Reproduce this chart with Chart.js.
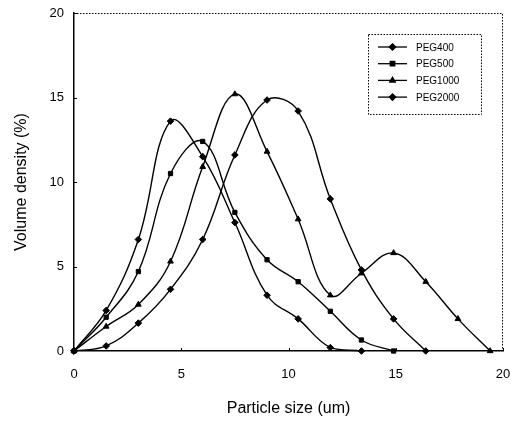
<!DOCTYPE html>
<html>
<head>
<meta charset="utf-8">
<script src="https://cdn.jsdelivr.net/npm/chart.js@4.4.1/dist/chart.umd.min.js"></script>
<style>
  html, body { margin: 0; padding: 0; background: #fff; }
  #wrap { width: 511px; height: 422px; }
</style>
</head>
<body>
<div id="wrap"><canvas id="psd"></canvas></div>
<script>
// particle size bins (um)
const sizeBins = [0, 1.5, 3, 4.5, 6, 7.5, 9, 10.45, 11.95, 13.4, 14.9, 16.4, 17.9, 19.4];

// volume density (%) per sample, one value per bin from the start
const peg400 = [0, 2.4, 6.6, 13.6, 11.5, 7.6, 3.3, 1.9, 0.2, 0];
const peg500 = [0, 2.0, 4.7, 10.5, 12.4, 8.2, 5.4, 4.1, 2.35, 0.65, 0];
const peg1000 = [0, 1.45, 2.75, 5.3, 10.9, 15.2, 11.8, 7.8, 3.3, 4.6, 5.8, 4.1, 1.9, 0];
const peg2000 = [0, 0.3, 1.65, 3.65, 6.6, 11.6, 14.85, 14.2, 9.0, 4.8, 1.9, 0];

const seriesNames = ['PEG400', 'PEG500', 'PEG1000', 'PEG2000'];
const seriesMarkers = ['rectRot', 'rect', 'triangle', 'rectRot'];

const xTicks = [0, 5, 10, 15, 20];
const yTicks = [0, 5, 10, 15, 20];

function toPoints(values) {
    return values.map((v, i) => ({ x: sizeBins[i], y: v }));
}

const FONT = '"Liberation Sans", Arial, sans-serif';

// dotted frame on top/right, small inward ticks, and the boxed legend
const framePlugin = {
    id: 'frame',
    afterDraw(chart) {
        const { ctx, chartArea: a, scales } = chart;
        ctx.save();
        ctx.strokeStyle = '#000';
        ctx.lineWidth = 1;
        ctx.setLineDash([1.5, 1.5]);
        ctx.beginPath();
        ctx.moveTo(a.left, a.top + 0.5);
        ctx.lineTo(a.right - 0.5, a.top + 0.5);
        ctx.lineTo(a.right - 0.5, a.bottom);
        ctx.stroke();
        ctx.setLineDash([]);

        // inward ticks
        ctx.beginPath();
        yTicks.forEach(t => {
            const y = Math.round(scales.y.getPixelForValue(t)) + 0.5;
            ctx.moveTo(a.left, y);
            ctx.lineTo(a.left + 3, y);
        });
        xTicks.forEach(t => {
            const x = Math.round(scales.x.getPixelForValue(t)) + 0.5;
            ctx.moveTo(x, a.bottom);
            ctx.lineTo(x, a.bottom - 3);
        });
        ctx.stroke();

        // legend box
        const bx = 368, by = 34, bw = 113, bh = 80;
        ctx.setLineDash([1.5, 1.5]);
        ctx.strokeRect(bx + 0.5, by + 0.5, bw, bh);
        ctx.setLineDash([]);
        ctx.font = '10px ' + FONT;
        ctx.textBaseline = 'middle';
        ctx.fillStyle = '#000';
        chart.data.datasets.forEach((ds, i) => {
            const y = by + 13 + i * 16.7;
            ctx.lineWidth = 1.3;
            ctx.beginPath();
            ctx.moveTo(bx + 10, y);
            ctx.lineTo(bx + 39, y);
            ctx.stroke();
            Chart.helpers.drawPoint(ctx, {
                pointStyle: ds.pointStyle, radius: 3.2, rotation: 0, borderWidth: 1
            }, bx + 24.5, y);
            ctx.fill();
            ctx.fillText(ds.label, bx + 48, y + 1);
        });
        ctx.restore();
    }
};

const datasets = [peg400, peg500, peg1000, peg2000].map((vals, i) => ({
    label: seriesNames[i],
    data: toPoints(vals),
    borderColor: '#000',
    backgroundColor: '#000',
    borderWidth: 1.4,
    pointStyle: seriesMarkers[i],
    pointRadius: seriesMarkers[i] === 'rect' ? 3 : 3.3,
    pointBorderWidth: 1,
    tension: 0.4,
    showLine: true,
    clip: false
}));

new Chart(document.getElementById('psd'), {
    type: 'scatter',
    data: { datasets },
    options: {
        responsive: true,
        maintainAspectRatio: false,
        animation: false,
        layout: { padding: { top: 13, right: 8, left: 8, bottom: 0 } },
        plugins: { legend: { display: false }, tooltip: { enabled: false } },
        scales: {
            x: {
                type: 'linear',
                min: 0, max: 20,
                afterBuildTicks: s => { s.ticks = xTicks.map(v => ({ value: v })); },
                afterFit: s => { s.height = 71; s.paddingLeft = 0; s.paddingRight = 0; },
                grid: { display: false, drawTicks: false },
                border: { display: true, color: '#000', width: 1.5 },
                ticks: { color: '#000', padding: 16, font: { family: FONT, size: 13 } },
                title: {
                    display: true, text: 'Particle size (um)', color: '#000',
                    font: { family: FONT, size: 16 }, padding: { top: 8 }
                }
            },
            y: {
                type: 'linear',
                min: 0, max: 20,
                afterBuildTicks: s => { s.ticks = yTicks.map(v => ({ value: v })); },
                afterFit: s => { s.width = 66; s.paddingTop = 0; s.paddingBottom = 0; },
                grid: { display: false, drawTicks: false },
                border: { display: true, color: '#000', width: 1.5 },
                ticks: { color: '#000', padding: 10, font: { family: FONT, size: 13 } },
                title: {
                    display: true, text: 'Volume density (%)', color: '#000',
                    font: { family: FONT, size: 16 }, padding: { bottom: 6 }
                }
            }
        }
    },
    plugins: [framePlugin]
});
</script>
</body>
</html>
